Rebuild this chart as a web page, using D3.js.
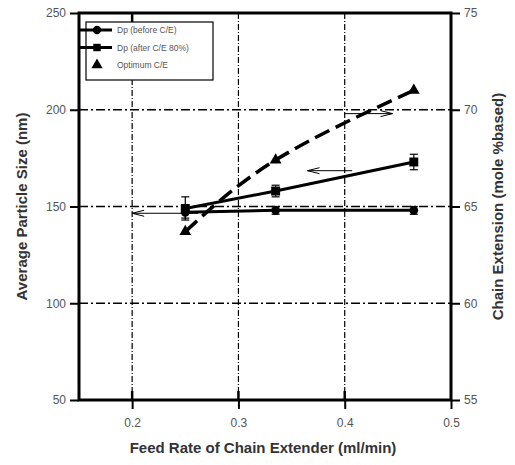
<!DOCTYPE html>
<html>
<head>
<meta charset="utf-8">
<script src="https://cdn.jsdelivr.net/npm/d3@7"></script>
<style>
  body { margin: 0; background: #fff; }
  text { font-family: "Liberation Sans", Arial, sans-serif; }
</style>
</head>
<body>
<div id="chart"></div>
<script>
// Data
var feedRate = [0.25, 0.335, 0.465];
var dpBefore = [147, 148, 148];
var dpBeforeErr = [3, 2, 2];
var dpAfter = [149, 158, 173];
var dpAfterErr = [6, 3, 4];
var optimumCE = [63.7, 67.4, 71.0];

var xTicks = [0.2, 0.3, 0.4, 0.5];
var leftTicks = [50, 100, 150, 200, 250];
var rightTicks = [55, 60, 65, 70, 75];

// Arrow annotations (data units): which axis they point to
var arrows = [
  { x1: 0.262, x2: 0.2, y: 146.5, axis: "left" },
  { x1: 0.407, x2: 0.365, y: 168.5, axis: "left" },
  { x1: 0.4, x2: 0.445, y: 69.8, axis: "right" }
];

var svgWidth = 515;
var svgHeight = 465;
var margin = { top: 13, right: 64, bottom: 65, left: 79 };
var width = svgWidth - margin.left - margin.right;
var height = svgHeight - margin.top - margin.bottom;

var svg = d3.select("#chart").append("svg")
  .attr("width", svgWidth)
  .attr("height", svgHeight);

var g = svg.append("g")
  .attr("transform", `translate(${margin.left}, ${margin.top})`);

var x = d3.scaleLinear().domain([0.15, 0.5]).range([0, width]);
var yL = d3.scaleLinear().domain([50, 250]).range([height, 0]);
var yR = d3.scaleLinear().domain([55, 75]).range([height, 0]);

// grid lines (dash-dot)
g.selectAll(".hgrid")
  .data([100, 150, 200])
  .enter().append("line")
  .attr("x1", 0).attr("x2", width)
  .attr("y1", d => yL(d)).attr("y2", d => yL(d))
  .attr("stroke", "#000").attr("stroke-width", 1.6)
  .attr("stroke-dasharray", "9,3,2,3");

g.selectAll(".vgrid")
  .data([0.2, 0.3, 0.4])
  .enter().append("line")
  .attr("x1", d => x(d)).attr("x2", d => x(d))
  .attr("y1", 0).attr("y2", height)
  .attr("stroke", "#000").attr("stroke-width", 1.2)
  .attr("stroke-dasharray", "6,2,1,2");

// axes
var tickColor = "#555";
var leftAxis = g.append("g")
  .call(d3.axisLeft(yL).tickValues(leftTicks).tickSize(9).tickPadding(4));
var bottomAxis = g.append("g")
  .attr("transform", `translate(0, ${height})`)
  .call(d3.axisBottom(x).tickValues(xTicks).tickSize(9).tickPadding(9).tickFormat(d3.format(".1f")));
var rightAxis = g.append("g")
  .attr("transform", `translate(${width}, 0)`)
  .call(d3.axisRight(yR).tickValues(rightTicks).tickSize(9).tickPadding(4));

[leftAxis, bottomAxis, rightAxis].forEach(function(a) {
  a.select(".domain").remove();
  a.selectAll(".tick line").attr("stroke", "#000").attr("stroke-width", 2);
  a.selectAll(".tick text")
    .attr("fill", tickColor)
    .style("font-size", "12px");
});

// inner tick marks on bottom axis
g.selectAll(".btick")
  .data([0.2, 0.3, 0.4])
  .enter().append("line")
  .attr("x1", d => x(d)).attr("x2", d => x(d))
  .attr("y1", height - 9).attr("y2", height)
  .attr("stroke", "#000").attr("stroke-width", 2.5);

// top inner tick
g.append("line")
  .attr("x1", x(0.2)).attr("x2", x(0.2))
  .attr("y1", 0).attr("y2", 9)
  .attr("stroke", "#000").attr("stroke-width", 2.5);

// frame
g.append("rect")
  .attr("x", 0).attr("y", 0)
  .attr("width", width).attr("height", height)
  .attr("fill", "none")
  .attr("stroke", "#000").attr("stroke-width", 3);

// series
var before = feedRate.map((f, i) => ({ x: f, y: dpBefore[i], e: dpBeforeErr[i] }));
var after = feedRate.map((f, i) => ({ x: f, y: dpAfter[i], e: dpAfterErr[i] }));
var opt = feedRate.map((f, i) => ({ x: f, y: optimumCE[i] }));

var lineL = d3.line().x(d => x(d.x)).y(d => yL(d.y));
var lineR = d3.line().x(d => x(d.x)).y(d => yR(d.y)).curve(d3.curveNatural);

g.append("path").datum(before)
  .attr("d", lineL).attr("fill", "none")
  .attr("stroke", "#000").attr("stroke-width", 3);

g.append("path").datum(after)
  .attr("d", lineL).attr("fill", "none")
  .attr("stroke", "#000").attr("stroke-width", 3);

g.append("path").datum(opt)
  .attr("d", lineR).attr("fill", "none")
  .attr("stroke", "#000").attr("stroke-width", 3.5)
  .attr("stroke-dasharray", "16,7");

// error bars
function errorBars(data) {
  var eb = g.append("g");
  data.forEach(function(d) {
    eb.append("line")
      .attr("x1", x(d.x)).attr("x2", x(d.x))
      .attr("y1", yL(d.y + d.e)).attr("y2", yL(d.y - d.e))
      .attr("stroke", "#000").attr("stroke-width", 1.2);
    [d.y + d.e, d.y - d.e].forEach(function(v) {
      eb.append("line")
        .attr("x1", x(d.x) - 4).attr("x2", x(d.x) + 4)
        .attr("y1", yL(v)).attr("y2", yL(v))
        .attr("stroke", "#000").attr("stroke-width", 1.2);
    });
  });
}
errorBars(after);
errorBars(before);

// markers
g.selectAll(".mb").data(before).enter().append("path")
  .attr("transform", d => `translate(${x(d.x)},${yL(d.y)})`)
  .attr("d", d3.symbol().type(d3.symbolCircle).size(60)());
g.selectAll(".ma").data(after).enter().append("path")
  .attr("transform", d => `translate(${x(d.x)},${yL(d.y)})`)
  .attr("d", d3.symbol().type(d3.symbolSquare).size(80)());
g.selectAll(".mo").data(opt).enter().append("path")
  .attr("transform", d => `translate(${x(d.x)},${yR(d.y)})`)
  .attr("d", d3.symbol().type(d3.symbolTriangle).size(60)());

// arrows
arrows.forEach(function(a) {
  var ys = a.axis === "left" ? yL(a.y) : yR(a.y);
  var x1 = x(a.x1), x2 = x(a.x2);
  var dir = x2 > x1 ? 1 : -1;
  var ag = g.append("g").attr("stroke", "#000").attr("stroke-width", 1).attr("fill", "none");
  ag.append("line").attr("x1", x1).attr("x2", x2).attr("y1", ys).attr("y2", ys);
  ag.append("line").attr("x1", x2).attr("x2", x2 - dir * 12).attr("y1", ys).attr("y2", ys - 3);
  ag.append("line").attr("x1", x2).attr("x2", x2 - dir * 12).attr("y1", ys).attr("y2", ys + 3);
});

// legend
var legend = g.append("g").attr("transform", "translate(7, 9)");
legend.append("rect")
  .attr("x", 0).attr("y", 0)
  .attr("width", 127).attr("height", 58)
  .attr("fill", "#fff")
  .attr("stroke", "#000").attr("stroke-width", 1.2);

var legendItems = [
  { label: "Dp (before C/E)", type: d3.symbolCircle, line: true },
  { label: "Dp (after C/E 80%)", type: d3.symbolSquare, line: true },
  { label: "Optimum C/E", type: d3.symbolTriangle, line: false }
];
legendItems.forEach(function(item, i) {
  var ly = 8 + i * 17.5;
  if (item.line) {
    legend.append("line")
      .attr("x1", -7).attr("x2", 26)
      .attr("y1", ly).attr("y2", ly)
      .attr("stroke", "#000").attr("stroke-width", 3);
  }
  legend.append("path")
    .attr("transform", `translate(11,${ly})`)
    .attr("d", d3.symbol().type(item.type).size(55)());
  legend.append("text")
    .attr("x", 31).attr("y", ly + 3)
    .attr("fill", "#555")
    .style("font-size", "8.5px")
    .text(item.label);
});

// axis titles
svg.append("text")
  .attr("transform", `translate(27, ${margin.top + height / 2}) rotate(-90)`)
  .attr("text-anchor", "middle")
  .attr("fill", "#333")
  .style("font-size", "15px").style("font-weight", "bold")
  .text("Average Particle Size (nm)");

svg.append("text")
  .attr("transform", `translate(503, ${margin.top + height / 2}) rotate(-90)`)
  .attr("text-anchor", "middle")
  .attr("fill", "#333")
  .style("font-size", "15px").style("font-weight", "bold")
  .text("Chain Extension (mole %based)");

svg.append("text")
  .attr("x", margin.left + width / 2 - 2)
  .attr("y", 453)
  .attr("text-anchor", "middle")
  .attr("fill", "#333")
  .style("font-size", "15px").style("font-weight", "bold")
  .text("Feed Rate of Chain Extender (ml/min)");
</script>
</body>
</html>
